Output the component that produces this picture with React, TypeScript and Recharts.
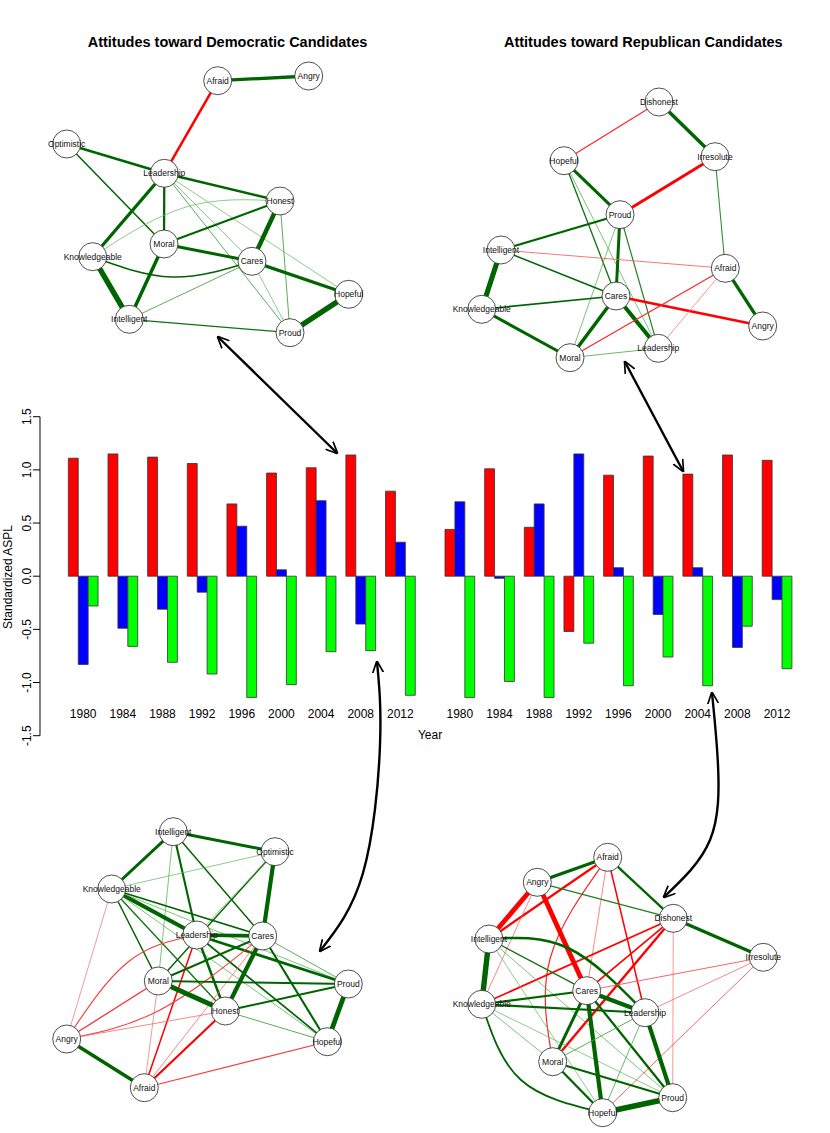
import React from 'react';
import { BarChart, Bar, XAxis, YAxis, ScatterChart, Scatter } from 'recharts';

const FONT = '"Liberation Sans", Arial, Helvetica, sans-serif';

// ---- bar chart data (standardized ASPL) ----
const years = ['1980', '1984', '1988', '1992', '1996', '2000', '2004', '2008', '2012'];
const yTicks = [-1.5, -1, -0.5, 0, 0.5, 1, 1.5];

const demRed = [1.11, 1.15, 1.12, 1.06, 0.68, 0.97, 1.02, 1.14, 0.8];
const demBlue = [-0.83, -0.49, -0.31, -0.15, 0.47, 0.06, 0.71, -0.45, 0.32];
const demGreen = [-0.28, -0.66, -0.81, -0.92, -1.14, -1.02, -0.71, -0.7, -1.12];

const repRed = [0.44, 1.01, 0.46, -0.52, 0.95, 1.13, 0.96, 1.14, 1.09];
const repBlue = [0.7, -0.02, 0.68, 1.15, 0.08, -0.36, 0.08, -0.67, -0.22];
const repGreen = [-1.14, -0.99, -1.14, -0.63, -1.03, -0.76, -1.03, -0.47, -0.87];

// ---- network layouts (node positions) and edge weights ----
type Node = { name: string; x: number; y: number };
type Edge = [string, string, number, [number, number]?];

const demTopNodes: Node[] = [
  { name: 'Afraid', x: 217.7, y: 80.7 },
  { name: 'Angry', x: 308.7, y: 76 },
  { name: 'Optimistic', x: 66.7, y: 144 },
  { name: 'Leadership', x: 164.3, y: 173.3 },
  { name: 'Honest', x: 280, y: 201 },
  { name: 'Moral', x: 164, y: 244 },
  { name: 'Cares', x: 252, y: 261.3 },
  { name: 'Knowledgeable', x: 92.7, y: 256.7 },
  { name: 'Hopeful', x: 348.7, y: 294.3 },
  { name: 'Intelligent', x: 129.3, y: 319.3 },
  { name: 'Proud', x: 290, y: 332.7 },
];
const demTopEdges: Edge[] = [
  ['Afraid', 'Angry', 0.55],
  ['Afraid', 'Leadership', -0.42],
  ['Optimistic', 'Leadership', 0.42],
  ['Optimistic', 'Moral', 0.25],
  ['Leadership', 'Honest', 0.42],
  ['Leadership', 'Moral', 0.38],
  ['Leadership', 'Knowledgeable', 0.55],
  ['Leadership', 'Cares', 0.13],
  ['Leadership', 'Proud', 0.15],
  ['Leadership', 'Hopeful', 0.12],
  ['Knowledgeable', 'Honest', 0.12, [186, 207]],
  ['Knowledgeable', 'Cares', 0.25, [172, 277]],
  ['Knowledgeable', 'Intelligent', 0.9],
  ['Moral', 'Honest', 0.33],
  ['Moral', 'Cares', 0.5],
  ['Moral', 'Intelligent', 0.58],
  ['Honest', 'Cares', 0.75],
  ['Honest', 'Proud', 0.15],
  ['Cares', 'Hopeful', 0.55],
  ['Cares', 'Intelligent', 0.15],
  ['Cares', 'Proud', 0.12],
  ['Intelligent', 'Proud', 0.22],
  ['Hopeful', 'Proud', 0.92],
];

const repTopNodes: Node[] = [
  { name: 'Dishonest', x: 659, y: 102 },
  { name: 'Hopeful', x: 564, y: 160.7 },
  { name: 'Irresolute', x: 715, y: 156.7 },
  { name: 'Proud', x: 620, y: 214.7 },
  { name: 'Intelligent', x: 501, y: 250 },
  { name: 'Afraid', x: 725.3, y: 268.3 },
  { name: 'Cares', x: 616, y: 296 },
  { name: 'Knowledgeable', x: 481.7, y: 309.3 },
  { name: 'Angry', x: 762.7, y: 326 },
  { name: 'Leadership', x: 658.3, y: 348.3 },
  { name: 'Moral', x: 570, y: 357.7 },
];
const repTopEdges: Edge[] = [
  ['Dishonest', 'Hopeful', -0.2],
  ['Dishonest', 'Irresolute', 0.58],
  ['Irresolute', 'Proud', -0.5],
  ['Irresolute', 'Afraid', 0.18],
  ['Hopeful', 'Proud', 0.5],
  ['Hopeful', 'Cares', 0.22],
  ['Hopeful', 'Leadership', 0.13],
  ['Proud', 'Leadership', 0.2],
  ['Proud', 'Intelligent', 0.35],
  ['Proud', 'Cares', 0.5],
  ['Proud', 'Moral', 0.13],
  ['Intelligent', 'Knowledgeable', 0.85],
  ['Intelligent', 'Afraid', -0.14],
  ['Intelligent', 'Cares', 0.25],
  ['Knowledgeable', 'Cares', 0.28],
  ['Knowledgeable', 'Moral', 0.5],
  ['Cares', 'Moral', 0.58],
  ['Cares', 'Leadership', 0.68],
  ['Cares', 'Angry', -0.42],
  ['Afraid', 'Angry', 0.55],
  ['Afraid', 'Moral', -0.2],
  ['Afraid', 'Leadership', -0.12],
  ['Moral', 'Leadership', 0.14],
];

const demBottomNodes: Node[] = [
  { name: 'Intelligent', x: 173.3, y: 831.7 },
  { name: 'Optimistic', x: 275, y: 851.7 },
  { name: 'Knowledgeable', x: 111.7, y: 889 },
  { name: 'Leadership', x: 196.7, y: 935 },
  { name: 'Cares', x: 262.7, y: 936 },
  { name: 'Moral', x: 158.3, y: 981 },
  { name: 'Proud', x: 348.3, y: 984 },
  { name: 'Honest', x: 225.3, y: 1011 },
  { name: 'Angry', x: 66.7, y: 1039 },
  { name: 'Hopeful', x: 327.3, y: 1041.7 },
  { name: 'Afraid', x: 144.3, y: 1087.7 },
];
const demBottomEdges: Edge[] = [
  ['Intelligent', 'Optimistic', 0.5],
  ['Intelligent', 'Knowledgeable', 0.5],
  ['Intelligent', 'Leadership', 0.35],
  ['Intelligent', 'Moral', 0.13],
  ['Intelligent', 'Cares', 0.25],
  ['Optimistic', 'Knowledgeable', 0.12],
  ['Optimistic', 'Cares', 0.7],
  ['Optimistic', 'Moral', 0.25],
  ['Optimistic', 'Leadership', 0.12],
  ['Knowledgeable', 'Leadership', 0.7],
  ['Knowledgeable', 'Cares', 0.28],
  ['Knowledgeable', 'Moral', 0.25],
  ['Knowledgeable', 'Honest', 0.22],
  ['Knowledgeable', 'Proud', 0.13],
  ['Knowledgeable', 'Hopeful', 0.13],
  ['Knowledgeable', 'Angry', -0.12],
  ['Leadership', 'Cares', 0.6],
  ['Leadership', 'Honest', 0.42],
  ['Leadership', 'Proud', 0.45],
  ['Leadership', 'Hopeful', 0.28],
  ['Leadership', 'Afraid', -0.25],
  ['Leadership', 'Angry', -0.18, [128, 962]],
  ['Cares', 'Moral', 0.35],
  ['Cares', 'Honest', 0.7],
  ['Cares', 'Hopeful', 0.35],
  ['Cares', 'Proud', 0.15],
  ['Cares', 'Angry', -0.18, [160, 1010]],
  ['Cares', 'Afraid', -0.13],
  ['Moral', 'Proud', 0.3],
  ['Moral', 'Honest', 0.8],
  ['Moral', 'Angry', -0.2],
  ['Moral', 'Afraid', -0.12],
  ['Honest', 'Proud', 0.35],
  ['Honest', 'Hopeful', 0.15],
  ['Honest', 'Afraid', -0.35],
  ['Honest', 'Angry', -0.13],
  ['Proud', 'Hopeful', 0.8],
  ['Hopeful', 'Afraid', -0.18],
  ['Angry', 'Afraid', 0.6],
];

const repBottomNodes: Node[] = [
  { name: 'Afraid', x: 607.7, y: 857.3 },
  { name: 'Angry', x: 537.3, y: 882.3 },
  { name: 'Dishonest', x: 673.3, y: 918.3 },
  { name: 'Intelligent', x: 489, y: 939 },
  { name: 'Irresolute', x: 763.3, y: 957.3 },
  { name: 'Cares', x: 586.7, y: 990.7 },
  { name: 'Knowledgeable', x: 481.7, y: 1004.3 },
  { name: 'Leadership', x: 645, y: 1012.7 },
  { name: 'Moral', x: 552.7, y: 1061.7 },
  { name: 'Proud', x: 672.7, y: 1097.7 },
  { name: 'Hopeful', x: 602.7, y: 1112.7 },
];
const repBottomEdges: Edge[] = [
  ['Afraid', 'Angry', 0.55],
  ['Afraid', 'Intelligent', -0.38],
  ['Afraid', 'Dishonest', 0.38],
  ['Afraid', 'Moral', -0.2, [550, 959]],
  ['Afraid', 'Cares', -0.13],
  ['Afraid', 'Leadership', -0.25],
  ['Angry', 'Intelligent', -0.8],
  ['Angry', 'Cares', -0.8],
  ['Angry', 'Dishonest', 0.2],
  ['Angry', 'Knowledgeable', -0.13],
  ['Dishonest', 'Irresolute', 0.55],
  ['Dishonest', 'Knowledgeable', -0.28],
  ['Dishonest', 'Moral', -0.4],
  ['Dishonest', 'Cares', -0.28],
  ['Dishonest', 'Proud', -0.12],
  ['Intelligent', 'Knowledgeable', 0.9],
  ['Intelligent', 'Leadership', 0.42, [568, 948]],
  ['Intelligent', 'Cares', 0.22],
  ['Intelligent', 'Hopeful', 0.12],
  ['Intelligent', 'Proud', 0.13],
  ['Knowledgeable', 'Cares', 0.35],
  ['Knowledgeable', 'Leadership', 0.35],
  ['Knowledgeable', 'Moral', 0.13],
  ['Knowledgeable', 'Hopeful', 0.3, [521, 1080]],
  ['Knowledgeable', 'Proud', 0.12],
  ['Irresolute', 'Cares', -0.15],
  ['Irresolute', 'Leadership', -0.13],
  ['Irresolute', 'Hopeful', -0.15],
  ['Cares', 'Leadership', 0.7],
  ['Cares', 'Moral', 0.5],
  ['Cares', 'Hopeful', 0.7],
  ['Cares', 'Proud', 0.38],
  ['Leadership', 'Proud', 0.7],
  ['Leadership', 'Moral', 0.15],
  ['Leadership', 'Hopeful', 0.14],
  ['Moral', 'Proud', 0.35],
  ['Moral', 'Hopeful', 0.38],
  ['Hopeful', 'Proud', 0.92],
];

// arrows linking networks to the bars (page units)
const arrows: [number, number][][] = [
  [[218, 337], [337, 453]],
  [[625, 362], [683, 471]],
  [[377, 662], [380, 745], [363, 873], [320, 951]],
  [[712, 693], [718, 765], [710, 840], [664, 897]],
];

const demData = years.map((year, i) => ({ year, red: demRed[i], blue: demBlue[i], green: demGreen[i] }));
const repData = years.map((year, i) => ({ year, red: repRed[i], blue: repBlue[i], green: repGreen[i] }));

function YearTick({ x, y, payload }: any) {
  return (
    <text x={x} y={y - 22} dy="0.35em" textAnchor="middle" fontSize={12} fontFamily={FONT} fill="#000">
      {payload.value}
    </text>
  );
}

function ValueTick({ x, y, payload }: any) {
  return (
    <text x={x} y={y} transform={`rotate(-90 ${x} ${y})`} textAnchor="middle" fontSize={12} fontFamily={FONT} fill="#000">
      {Number(payload.value).toFixed(1)}
    </text>
  );
}

function Bars({ data, left, width, showAxis }: { data: any[]; left: number; width: number; showAxis: boolean }) {
  return (
    <div style={{ position: 'absolute', left, top: 400 }}>
      <BarChart
        width={width}
        height={360}
        data={data}
        margin={{ top: 16.7, right: 0, bottom: 0, left: 0 }}
        barGap={0}
        barSize={9.91}
      >
        <XAxis
          dataKey="year"
          height={24.3}
          axisLine={false}
          tickLine={false}
          tickSize={0}
          tickMargin={0}
          tick={YearTick}
          interval={0}
          padding={{ left: showAxis ? 23.34 : 0, right: 0 }}
        />
        <YAxis
          width={40}
          hide={!showAxis}
          domain={[-1.5, 1.5]}
          ticks={yTicks}
          tick={ValueTick}
          tickSize={7}
          tickMargin={2}
          stroke="#000"
          allowDataOverflow
        />
        <Bar dataKey="red" fill="#ff0000" stroke="#333" strokeWidth={0.8} isAnimationActive={false} />
        <Bar dataKey="blue" fill="#0000ff" stroke="#333" strokeWidth={0.8} isAnimationActive={false} />
        <Bar dataKey="green" fill="#00ff00" stroke="#333" strokeWidth={0.8} isAnimationActive={false} />
      </BarChart>
    </div>
  );
}

// weak edges fade toward a lighter, still saturated tone
function mix(c1: number[], c2: number[], t: number) {
  const c = c1.map((v, i) => Math.round(v + (c2[i] - v) * t));
  return `rgb(${c[0]},${c[1]},${c[2]})`;
}

function edgeLine(w: number) {
  const a = Math.abs(w);
  const t = Math.min(1, Math.max(0, (a - 0.1) / 0.14));
  const stroke = w > 0 ? mix([110, 200, 110], [0, 100, 0], t) : mix([240, 130, 130], [255, 0, 0], t);
  return { stroke, strokeWidth: a * 6 };
}

function NodeShape(props: any) {
  const { cx, cy, payload } = props;
  return (
    <g>
      <circle cx={cx} cy={cy} r={14} fill="#fff" stroke="#222" strokeWidth={0.8} />
      <text x={cx} y={cy} dy="0.35em" textAnchor="middle" fontSize={8.5} fontFamily={FONT} fill="#111">
        {payload.name}
      </text>
    </g>
  );
}

const noDot = () => <g />;

function Network({ nodes, edges, box }: { nodes: Node[]; edges: Edge[]; box: [number, number, number, number] }) {
  const [x0, y0, x1, y1] = box;
  const pos: Record<string, Node> = Object.fromEntries(nodes.map((n) => [n.name, n]));
  return (
    <div style={{ position: 'absolute', left: x0, top: y0 }}>
      <ScatterChart width={x1 - x0} height={y1 - y0} margin={{ top: 0, right: 0, bottom: 0, left: 0 }}>
        <XAxis type="number" dataKey="x" domain={[x0, x1]} hide allowDataOverflow />
        <YAxis type="number" dataKey="y" domain={[y0, y1]} reversed hide allowDataOverflow />
        {edges.map((e, i) => {
          const a = pos[e[0]];
          const b = pos[e[1]];
          const pts = e[3] ? [{ x: a.x, y: a.y }, { x: e[3][0], y: e[3][1] }, { x: b.x, y: b.y }] : [{ x: a.x, y: a.y }, { x: b.x, y: b.y }];
          return (
            <Scatter
              key={i}
              data={pts}
              line={edgeLine(e[2])}
              lineJointType={e[3] ? 'natural' : 'linear'}
              shape={noDot}
              isAnimationActive={false}
            />
          );
        })}
        <Scatter data={nodes} shape={NodeShape} isAnimationActive={false} />
      </ScatterChart>
    </div>
  );
}

function Arrows() {
  return (
    <div style={{ position: 'absolute', left: 0, top: 0, pointerEvents: 'none' }}>
      <ScatterChart width={830} height={1133} margin={{ top: 0, right: 0, bottom: 0, left: 0 }}>
        <XAxis type="number" dataKey="x" domain={[0, 830]} hide allowDataOverflow />
        <YAxis type="number" dataKey="y" domain={[0, 1133]} reversed hide allowDataOverflow />
        {arrows.map((pts, i) => (
          <Scatter
            key={i}
            data={pts.map(([x, y]) => ({ x, y }))}
            line={{ stroke: '#000', strokeWidth: 2.4, markerStart: 'url(#arrowHead)', markerEnd: 'url(#arrowHead)' }}
            lineJointType={pts.length > 2 ? 'natural' : 'linear'}
            shape={noDot}
            isAnimationActive={false}
          />
        ))}
      </ScatterChart>
    </div>
  );
}

const titleStyle: React.CSSProperties = {
  position: 'absolute',
  top: 34.7,
  transform: 'translateX(-50%)',
  whiteSpace: 'nowrap',
  fontFamily: FONT,
  fontWeight: 'bold',
  fontSize: 14.5,
  lineHeight: 1,
  color: '#000',
};

export default function App() {
  return (
    <div style={{ position: 'absolute', left: 0, top: 0, width: 830, height: 1133, background: '#fff', overflow: 'hidden' }}>
      <svg width={0} height={0} style={{ position: 'absolute' }}>
        <defs>
          <marker
            id="arrowHead"
            viewBox="0 0 10 10"
            refX={9}
            refY={5}
            markerWidth={5}
            markerHeight={5}
            orient="auto-start-reverse"
            markerUnits="strokeWidth"
          >
            <path d="M0,0.5 L10,5 L0,9.5" fill="none" stroke="#000" strokeWidth={1.4} />
          </marker>
        </defs>
      </svg>

      <div style={{ ...titleStyle, left: 227.5 }}>Attitudes toward Democratic Candidates</div>
      <div style={{ ...titleStyle, left: 643.3 }}>Attitudes toward Republican Candidates</div>

      <Network nodes={demTopNodes} edges={demTopEdges} box={[30, 55, 390, 365]} />
      <Network nodes={repTopNodes} edges={repTopEdges} box={[440, 75, 800, 385]} />

      <Bars data={demData} left={0} width={420.2} showAxis />
      <Bars data={repData} left={440.04} width={356.85} showAxis={false} />

      <div
        style={{
          position: 'absolute',
          left: 8,
          top: 576.5,
          transform: 'translate(-50%, -50%) rotate(-90deg)',
          whiteSpace: 'nowrap',
          fontFamily: FONT,
          fontSize: 12,
          lineHeight: 1,
        }}
      >
        Standardized ASPL
      </div>
      <div
        style={{
          position: 'absolute',
          left: 430,
          top: 729,
          transform: 'translateX(-50%)',
          fontFamily: FONT,
          fontSize: 12,
          lineHeight: 1,
        }}
      >
        Year
      </div>

      <Network nodes={demBottomNodes} edges={demBottomEdges} box={[30, 805, 390, 1120]} />
      <Network nodes={repBottomNodes} edges={repBottomEdges} box={[440, 830, 800, 1130]} />

      <Arrows />
    </div>
  );
}
